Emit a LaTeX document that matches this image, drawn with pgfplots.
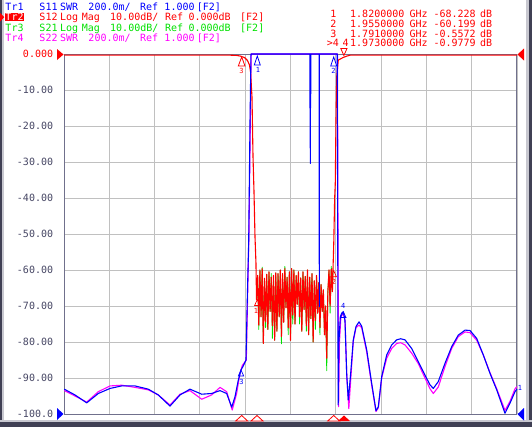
\documentclass[border=0pt]{standalone}
\usepackage{pgfplots}
\pgfplotsset{compat=1.18}
\usepackage{fontspec}
\setmonofont{DejaVu Sans Mono}
\newcommand\scr{\fontsize{10bp}{11bp}\selectfont\ttfamily}
\newcommand\scrs{\fontsize{7bp}{8bp}\selectfont\ttfamily}
\definecolor{tickgray}{RGB}{70,70,100}
\definecolor{gridgray}{RGB}{192,192,192}
\definecolor{framecol}{RGB}{112,112,140}
\definecolor{vred}{RGB}{255,0,0}
\definecolor{vgreen}{RGB}{0,225,0}
\definecolor{vblue}{RGB}{0,0,255}
\definecolor{vmag}{RGB}{255,0,255}
\definecolor{frdark}{RGB}{64,64,84}
\definecolor{frlight}{RGB}{200,200,208}
% text piece: x, baseline y (pixels from top left), colour, text
\newcommand\T[4]{\node[anchor=base west,inner sep=0pt,text=#3,font=\scr] at (#1,#2) {#4};}
\newcommand\R[4]{\node[anchor=base east,inner sep=0pt,text=#3,font=\scr] at (#1,#2) {#4};}
\begin{document}
\begin{tikzpicture}
\path[use as bounding box, fill=white] (0,0) rectangle (532bp,-427bp);
\begin{axis}[
    at={(64bp,-414bp)}, anchor=south west,
    scale only axis, width=453bp, height=360bp,
    xmin=1.48, xmax=2.28, ymin=-100, ymax=0,
    enlargelimits=false,
    xtick={1.48,1.56,1.64,1.72,1.80,1.88,1.96,2.04,2.12,2.20,2.28},
    xticklabels={},
    ytick={-100,-90,...,0},
    yticklabels={-100.0,-90.00,-80.00,-70.00,-60.00,-50.00,-40.00,-30.00,-20.00,-10.00,\textcolor{vred}{0.000}},
    yticklabel style={font=\scr, text=tickgray, inner sep=0pt, xshift=-10.7bp},
    major tick length=0pt,
    grid=major,
    major grid style={draw=gridgray, line width=0.8bp},
    axis line style={draw=framecol, line width=1bp},
    clip=false,
    every axis plot/.append style={line width=1.1bp, line join=round, mark=none},
    ]
% Tr4 S22 SWR (shown on the dB grid: bottom = 1.000, 200m/div)
\addplot[vmag] coordinates {
 (1.4805,-93.5) (1.4994,-95.0) (1.5201,-96.7) (1.5406,-93.8) (1.5612,-92.2) (1.5819,-92.0)
 (1.6054,-92.6) (1.6289,-93.3) (1.6465,-94.7) (1.6672,-97.5) (1.6849,-94.5) (1.7025,-93.5)
 (1.7232,-95.9) (1.7408,-94.7) (1.7555,-92.6) (1.7673,-93.8) (1.7771,-98.9) (1.7849,-94.3)
 (1.7908,-88.7) (1.7949,-86.5) (1.8020,-85.0) (1.8042,-68) (1.8066,-50) (1.8090,-20) (1.8105,0)
 (1.9630,0) (1.9640,-55) (1.9650,-98.0) (1.9665,-80) (1.9690,-73) (1.9735,-72) (1.9765,-74.5)
 (1.9795,-90) (1.9830,-98.5) (1.9870,-89) (1.9909,-79.8) (1.9957,-76) (2.0010,-75.3) (2.0057,-76)
 (2.0146,-82.8) (2.0234,-92) (2.0310,-99.3) (2.0351,-98.3) (2.0411,-90) (2.0499,-84.5)
 (2.0587,-81.8) (2.0675,-80.4) (2.0746,-80.2) (2.0822,-80.8) (2.0940,-83.1) (2.1057,-86.0)
 (2.1175,-90.0) (2.1264,-93.0) (2.1322,-94.3) (2.1410,-92.5) (2.1529,-86.8) (2.1647,-81.8)
 (2.1763,-78.5) (2.1882,-77.2) (2.1970,-77.4) (2.2088,-79.5) (2.2205,-83.6) (2.2323,-88.5)
 (2.2442,-93.0) (2.2588,-99.0) (2.2676,-96.5) (2.2765,-93.0) (2.2800,-92.4)
};
% Tr3 S21 Log Mag (only where it leaves the S12 trace)
\addplot[vgreen, line width=0.8bp] coordinates {
 (1.8200,-68.2)
 (1.8220,-61.5) (1.8240,-76.5) (1.8260,-60.0) (1.8280,-73.0) (1.8300,-59.2) (1.8320,-80.4)
 (1.8340,-62.3) (1.8360,-76.0) (1.8380,-61.2) (1.8400,-76.5) (1.8420,-60.5) (1.8440,-71.5)
 (1.8460,-61.0) (1.8480,-79.0) (1.8500,-61.5) (1.8520,-79.5) (1.8540,-60.8) (1.8560,-77.0)
 (1.8580,-61.0) (1.8600,-73.0) (1.8620,-60.0) (1.8640,-80.5) (1.8660,-61.0) (1.8680,-74.5)
 (1.8700,-59.0) (1.8720,-70.5) (1.8740,-62.0) (1.8760,-78.0) (1.8780,-60.5) (1.8800,-79.5)
 (1.8820,-59.6) (1.8840,-75.0) (1.8860,-60.0) (1.8880,-75.0) (1.8900,-61.5) (1.8920,-69.5)
 (1.8940,-60.5) (1.8960,-75.0) (1.8980,-62.2) (1.9000,-77.0) (1.9020,-60.5) (1.9040,-71.0)
 (1.9060,-61.8) (1.9080,-77.0) (1.9100,-60.0) (1.9120,-78.0) (1.9140,-62.0) (1.9160,-73.5)
 (1.9180,-61.0) (1.9200,-80.0) (1.9220,-63.0) (1.9240,-76.5) (1.9260,-61.5) (1.9280,-72.0)
 (1.9300,-63.5) (1.9320,-78.0) (1.9340,-64.0) (1.9360,-71.5) (1.9380,-65.5) (1.9400,-78.0)
 (1.9420,-70.0) (1.9440,-88.0) (1.9460,-66.0) (1.9480,-60.0) (1.9500,-72.0) (1.9520,-59.0)
 (1.9540,-66.0) (1.9550,-60.2)
};
% Tr2 S12 Log Mag
\addplot[vred] coordinates {
 (1.4800,-0.3) (1.7700,-0.3) (1.7850,-0.4) (1.7910,-0.56) (1.7990,-1.0) (1.8040,-1.8)
 (1.8075,-3.0) (1.8095,-5.0) (1.8102,-7.0) (1.8120,-12) (1.8138,-28.5) (1.8155,-38)
 (1.8173,-50.7) (1.8190,-58) (1.8200,-68.2)
 (1.8220,-61.5) (1.8240,-75.3) (1.8260,-60.0) (1.8280,-73.0) (1.8300,-59.6) (1.8320,-80.4)
 (1.8340,-62.3) (1.8360,-74.4) (1.8380,-61.2) (1.8400,-76.5) (1.8420,-60.5) (1.8440,-71.5)
 (1.8460,-62.0) (1.8480,-75.5) (1.8500,-61.5) (1.8520,-79.5) (1.8540,-60.8) (1.8560,-77.0)
 (1.8580,-61.0) (1.8600,-73.0) (1.8620,-60.0) (1.8640,-78.5) (1.8660,-61.0) (1.8680,-74.5)
 (1.8700,-59.6) (1.8720,-70.5) (1.8740,-62.0) (1.8760,-76.0) (1.8780,-60.5) (1.8800,-79.5)
 (1.8820,-59.6) (1.8840,-72.5) (1.8860,-60.0) (1.8880,-75.0) (1.8900,-61.5) (1.8920,-69.5)
 (1.8940,-60.5) (1.8960,-73.0) (1.8980,-62.2) (1.9000,-77.0) (1.9020,-60.5) (1.9040,-71.0)
 (1.9060,-61.8) (1.9080,-75.5) (1.9100,-60.0) (1.9120,-78.0) (1.9140,-62.0) (1.9160,-73.5)
 (1.9180,-61.0) (1.9200,-80.0) (1.9220,-63.0) (1.9240,-74.0) (1.9260,-61.5) (1.9280,-72.0)
 (1.9300,-63.5) (1.9320,-76.0) (1.9340,-64.0) (1.9360,-71.5) (1.9380,-65.5) (1.9400,-78.0)
 (1.9420,-70.0) (1.9440,-84.5) (1.9460,-66.0) (1.9480,-60.0) (1.9500,-70.0) (1.9520,-59.8)
 (1.9540,-66.0) (1.9550,-60.2)
 (1.9565,-52) (1.9580,-40) (1.9591,-36) (1.9603,-19) (1.9616,-6.3) (1.9644,-1.7)
 (1.9690,-1.3) (1.9730,-0.98) (1.9790,-0.6) (1.9860,-0.3) (2.2800,-0.3)
};
% Tr1 S11 SWR (shown on the dB grid: bottom = 1.000, 200m/div)
\addplot[vblue] coordinates {
 (1.4805,-93.1) (1.4994,-94.7) (1.5201,-96.9) (1.5406,-94.3) (1.5612,-92.9) (1.5819,-92.2)
 (1.6054,-92.2) (1.6289,-93.1) (1.6465,-94.7) (1.6672,-97.8) (1.6849,-94.7) (1.7025,-93.1)
 (1.7232,-94.5) (1.7408,-94.3) (1.7555,-93.5) (1.7673,-94.3) (1.7762,-98.1) (1.7820,-95.2)
 (1.7878,-90.6) (1.7926,-87.8) (1.7970,-86.5) (1.8014,-85.0) (1.8037,-68.0) (1.8062,-52.0)
 (1.8085,-19.0) (1.8102,0)
 (1.9143,0) (1.9145,-15) (1.9148,0) (1.9150,-30.4) (1.9153,0) (1.9156,-15) (1.9159,0)
 (1.9307,0) (1.9309,-70.2) (1.9311,0)
 (1.9625,0) (1.9633,-45) (1.9642,-97.5) (1.9655,-80) (1.9680,-73) (1.9704,-72) (1.9732,-71.6)
 (1.9762,-73.9) (1.9792,-88.7) (1.9821,-96.1) (1.9863,-88.7) (1.9909,-79.4) (1.9957,-75.7)
 (2.0010,-74.4) (2.0057,-75.6) (2.0146,-82.2) (2.0234,-91.5) (2.0310,-99.1) (2.0351,-98.0)
 (2.0411,-89.6) (2.0499,-83.6) (2.0587,-80.8) (2.0675,-79.4) (2.0746,-79.1) (2.0822,-79.4)
 (2.0940,-81.8) (2.1057,-85.5) (2.1175,-89.2) (2.1264,-91.9) (2.1322,-92.9) (2.1410,-91.0)
 (2.1529,-85.9) (2.1647,-81.3) (2.1763,-78.1) (2.1882,-76.7) (2.1970,-76.8) (2.2088,-79.0)
 (2.2205,-83.6) (2.2323,-88.7) (2.2442,-93.3) (2.2588,-99.8) (2.2676,-97.0) (2.2765,-93.8)
 (2.2800,-93.1)
};
\end{axis}
\begin{scope}[x=1bp,y=-1bp]
% window frame
\fill[frdark] (0,0) rectangle (2,427);
\fill[frlight] (2,0) rectangle (4,420);
\fill[frlight] (526,0) rectangle (529,420);
\fill[frdark] (529,0) rectangle (532,427);
\fill[frlight] (0,419.5) rectangle (532,421.5);
\fill[frdark] (0,421.5) rectangle (532,427);
% header, left
\fill[vred] (0,13) -- (0,21.5) -- (4.3,17.2) -- cycle;
\fill[vred] (4.7,13.2) rectangle (24.3,21.4);
\T{5.3}{10.7}{vblue}{Tr1}\T{39.3}{10.7}{vblue}{S11}\T{60}{10.7}{vblue}{SWR}
\T{88.3}{10.7}{vblue}{200.0m/}\T{140}{10.7}{vblue}{Ref}\T{164.3}{10.7}{vblue}{1.000}\T{196.7}{10.7}{vblue}{[F2]}
\T{5.3}{20.7}{white}{Tr2}\T{39.3}{20.7}{vred}{S12}\T{60}{20.7}{vred}{Log}\T{81.7}{20.7}{vred}{Mag}
\T{110}{20.7}{vred}{10.00dB/}\T{165}{20.7}{vred}{Ref}\T{188.3}{20.7}{vred}{0.000dB}\T{240}{20.7}{vred}{[F2]}
\T{5.3}{31.2}{vgreen}{Tr3}\T{39.3}{31.2}{vgreen}{S21}\T{60}{31.2}{vgreen}{Log}\T{81.7}{31.2}{vgreen}{Mag}
\T{110}{31.2}{vgreen}{10.00dB/}\T{165}{31.2}{vgreen}{Ref}\T{188.3}{31.2}{vgreen}{0.000dB}\T{240}{31.2}{vgreen}{[F2]}
\T{5.3}{41.6}{vmag}{Tr4}\T{39.3}{41.6}{vmag}{S22}\T{60}{41.6}{vmag}{SWR}
\T{88.3}{41.6}{vmag}{200.0m/}\T{140}{41.6}{vmag}{Ref}\T{164.3}{41.6}{vmag}{1.000}\T{196.7}{41.6}{vmag}{[F2]}
% marker table, right
\R{336.7}{17.3}{vred}{1}\T{350}{17.3}{vred}{1.8200000}\T{409.3}{17.3}{vred}{GHz}\T{433.3}{17.3}{vred}{-68.228}\T{480}{17.3}{vred}{dB}
\R{336.7}{27.3}{vred}{2}\T{350}{27.3}{vred}{1.9550000}\T{409.3}{27.3}{vred}{GHz}\T{433.3}{27.3}{vred}{-60.199}\T{480}{27.3}{vred}{dB}
\R{336.7}{37.3}{vred}{3}\T{350}{37.3}{vred}{1.7910000}\T{409.3}{37.3}{vred}{GHz}\T{433.3}{37.3}{vred}{-0.5572}\T{480}{37.3}{vred}{dB}
\R{339}{46.8}{vred}{>4}\T{342.5}{46.8}{vred}{4}\T{350}{46.8}{vred}{1.9730000}\T{409.3}{46.8}{vred}{GHz}\T{433.3}{46.8}{vred}{-0.9779}\T{480}{46.8}{vred}{dB}
% reference level arrows
\fill[vred] (57,49) -- (57,60) -- (63.5,54.5) -- cycle;
\fill[vblue] (57,408) -- (57,420) -- (63.5,414) -- cycle;
\fill[vred] (524,48.5) -- (524,60.5) -- (517.5,54.5) -- cycle;
\fill[vblue] (524,408) -- (524,420.5) -- (517.5,414.2) -- cycle;
% marker flags at the top
\draw[vred, line width=0.8bp, fill=white] (238.3,66) -- (241.7,57) -- (245,66) -- cycle;
\node[text=vred, font=\scrs, inner sep=0pt] at (241.5,71) {3};
\draw[vblue, line width=0.8bp, fill=white] (254.3,65) -- (257.3,56) -- (260.3,65) -- cycle;
\node[text=vblue, font=\scrs, inner sep=0pt] at (258,70) {1};
\draw[vblue, line width=0.8bp, fill=white] (330.7,66) -- (333.7,57) -- (336.7,66) -- cycle;
\node[text=vblue, font=\scrs, inner sep=0pt] at (333.5,71) {2};
\draw[vred, line width=0.8bp, fill=white] (340.8,48.5) -- (347,48.5) -- (343.9,55.5) -- cycle;
% marker flags on the traces
\draw[vred, line width=0.7bp] (254.6,305.5) -- (257.3,299.5) -- (260,305.5) -- cycle;
\node[text=vred, font=\scrs, inner sep=0pt] at (256,311) {1};
\draw[vred, line width=0.7bp] (331,276.7) -- (333.7,270.7) -- (336.4,276.7) -- cycle;
\node[text=vred, font=\scrs, inner sep=0pt] at (334,282) {2};
\draw[vblue, line width=0.7bp] (238.3,376) -- (241,370) -- (243.7,376) -- cycle;
\node[text=vblue, font=\scrs, inner sep=0pt] at (241.5,381.5) {3};
\draw[vblue, line width=0.7bp] (340.6,317.5) -- (343.3,311.7) -- (346,317.5) -- cycle;
\node[text=vblue, font=\scrs, inner sep=0pt] at (343.3,306) {4};
\node[text=vblue, font=\scrs, inner sep=0pt] at (520,388) {1};
% marker position indicators under the axis
\foreach \c in {241.7,257,333.7}{
  \draw[vred, line width=0.8bp, fill=white] (\c-6,421) -- (\c,415.5) -- (\c+6,421) -- cycle;}
\fill[vred] (338,421) -- (344,415.5) -- (350,421) -- cycle;
\end{scope}
\end{tikzpicture}
\end{document}
